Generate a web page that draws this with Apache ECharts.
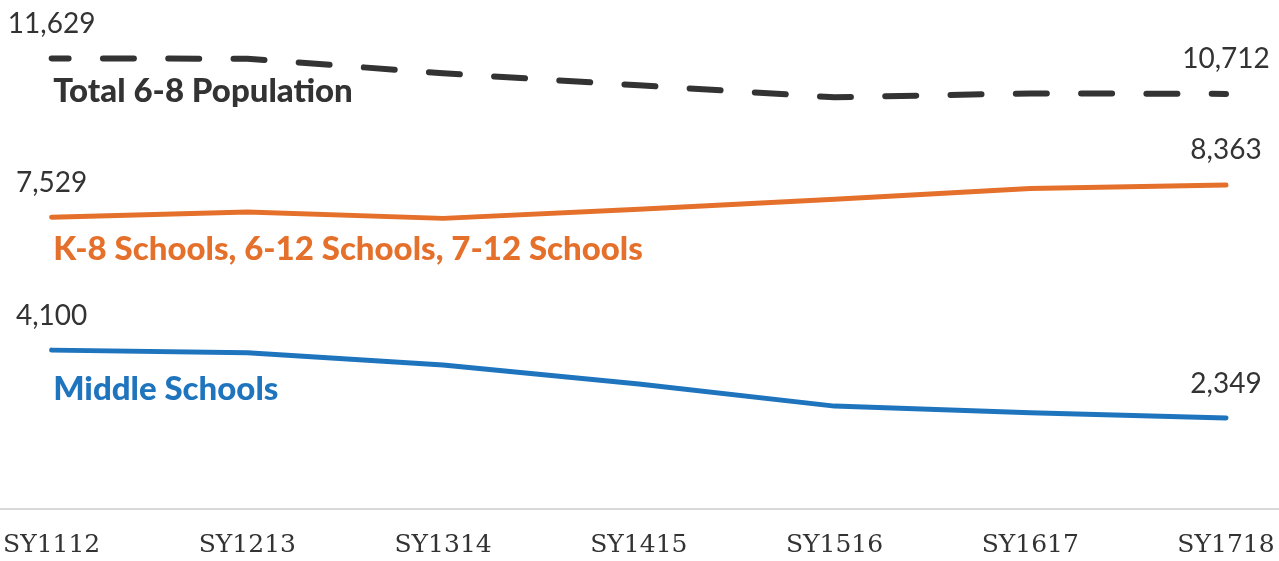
<!DOCTYPE html>
<html>
<head>
<meta charset="utf-8">
<script src="https://cdn.jsdelivr.net/npm/echarts@6/dist/echarts.min.js"></script>
<style>
  html, body { margin: 0; padding: 0; background: #fff; }
  #chart { width: 1279px; height: 561px; }
</style>
</head>
<body>
<div id="chart"></div>
<script>
// School years on the horizontal axis
const schoolYears = ['SY1112', 'SY1213', 'SY1314', 'SY1415', 'SY1516', 'SY1617', 'SY1718'];

// Grade 6-8 enrolment by school type
const totalPopulation = [11629, 11620, 11245, 10935, 10625, 10725, 10712];
const combinedSchools = [7529, 7665, 7500, 7735, 7995, 8270, 8363];
const middleSchools = [4100, 4030, 3715, 3225, 2655, 2485, 2349];

const seriesNames = [
  'Total 6-8 Population',
  'K-8 Schools, 6-12 Schools, 7-12 Schools',
  'Middle Schools'
];

const textFont = 'Lato, "Noto Sans", sans-serif';

const fmt = v => v.toLocaleString('en-US');

// Show the value only at the first and last school year
function endpointData(values) {
  return values.map((v, i) => ({
    value: v,
    label: { show: i === 0 || i === values.length - 1 }
  }));
}

function buildSeries(name, values, color, lineStyle, nameOffset) {
  return {
    name: name,
    type: 'line',
    data: endpointData(values),
    symbol: 'circle',
    symbolSize: 1,
    showSymbol: true,
    itemStyle: { color: 'rgba(0,0,0,0)' },
    smooth: false,
    lineStyle: Object.assign({ color: color, width: 5, cap: 'round', join: 'round' }, lineStyle),
    label: {
      position: 'top',
      distance: 20,
      align: 'center',
      color: '#333',
      fontFamily: textFont,
      fontSize: 28,
      formatter: p => fmt(p.value)
    },
    // series name written under the start of each line
    markPoint: {
      symbol: 'circle',
      symbolSize: 1,
      itemStyle: { color: 'rgba(0,0,0,0)' },
      silent: true,
      data: [{ coord: [0, values[0]], value: values[0] }],
      label: {
        show: true,
        position: [2, nameOffset],
        align: 'left',
        verticalAlign: 'middle',
        color: name === seriesNames[0] ? '#333333' : color,
        fontFamily: textFont,
        fontWeight: 900,
        fontSize: 33,
        formatter: () => name
      }
    },
    z: 3
  };
}

const chart = echarts.init(document.getElementById('chart'), null, { renderer: 'canvas' });

chart.setOption({
  animation: false,
  backgroundColor: '#ffffff',
  grid: [
    { left: 50, right: 53, top: 44, bottom: 52 },
    { left: 0, right: 0, top: 44, bottom: 52 }
  ],
  xAxis: [
    {
      type: 'category',
      gridIndex: 0,
      data: schoolYears,
      boundaryGap: false,
      axisLine: { show: false },
      axisTick: { show: false },
      axisLabel: {
        color: '#333',
        fontFamily: '"DejaVu Serif", serif',
        fontSize: 25,
        margin: 24
      }
    },
    {
      // full-width baseline under the plot
      type: 'value',
      gridIndex: 1,
      min: 0,
      max: 1,
      axisLine: { show: true, lineStyle: { color: '#d9d9d9', width: 2 } },
      axisTick: { show: false },
      axisLabel: { show: false },
      splitLine: { show: false }
    }
  ],
  yAxis: [
    { type: 'value', gridIndex: 0, min: 0, max: 12000, show: false },
    { type: 'value', gridIndex: 1, min: 0, max: 1, show: false }
  ],
  series: [
    buildSeries(seriesNames[0], totalPopulation, '#333333',
      { width: 6, type: [31, 34.3], dashOffset: 14 }, 33),
    buildSeries(seriesNames[1], combinedSchools, '#E4702B', {}, 33),
    buildSeries(seriesNames[2], middleSchools, '#1F74BE', {}, 40)
  ]
});
</script>
</body>
</html>
